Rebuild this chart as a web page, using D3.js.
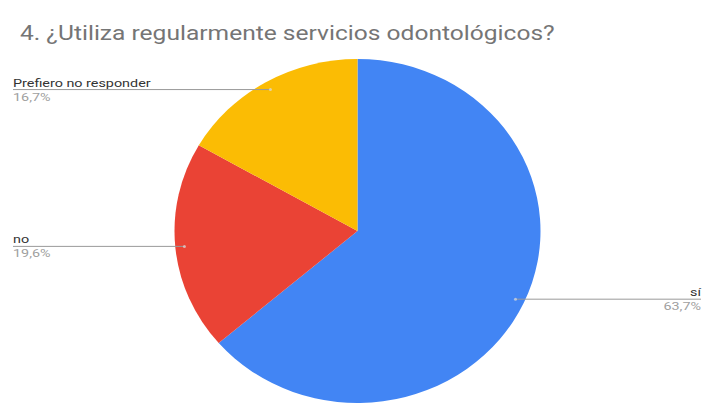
<!DOCTYPE html>
<html>
<head>
<meta charset="utf-8">
<script src="https://cdn.jsdelivr.net/npm/d3@7"></script>
<style>
  body { margin: 0; background: #fff; }
  svg { display: block; font-family: Roboto, Arial, sans-serif; }
</style>
</head>
<body>
<svg id="chart" width="703" height="403"></svg>
<script>
// data
const categories = ["sí", "no", "Prefiero no responder"];
const percents = [63.7, 19.6, 16.7];
const colors = ["#4285f4", "#ea4335", "#fbbc04"];
const titleText = "4. ¿Utiliza regularmente servicios odontológicos?";

const svg = d3.select("#chart");

// pie area (picture is a bit stretched sideways)
const cx = 357.5, cy = 231;
const rx = 183, ry = 172;
const stretch = 1.25; // horizontal text stretch seen in the reference

svg.append("text")
  .attr("transform", `translate(20,40) scale(1.17,1)`)
  .attr("fill", "#757575")
  .style("font-size", "21px")
  .text(titleText);

const rows = categories.map((c, i) => ({ name: c, value: percents[i], color: colors[i] }));

const pie = d3.pie().sort(null).value((d) => d.value);
const arcs = pie(rows);
const arc = d3.arc().innerRadius(0).outerRadius(rx);

const g = svg.append("g")
  .attr("transform", `translate(${cx},${cy}) scale(1,${ry / rx})`);

g.selectAll("path")
  .data(arcs)
  .enter()
  .append("path")
  .attr("d", arc)
  .attr("fill", (d) => d.data.color);

// labels with leader lines
const fmt = (v) => v.toFixed(1).replace(".", ",") + "%";

arcs.forEach((a) => {
  const mid = (a.startAngle + a.endAngle) / 2;
  const px = cx + Math.sin(mid) * rx * 0.95;
  const py = cy - Math.cos(mid) * ry * 0.95;
  const right = Math.sin(mid) > 0;
  const x0 = right ? px : 13;
  const x1 = right ? 701 : px;
  const tx = right ? 701 : 13;
  const anchor = right ? "end" : "start";

  svg.append("line")
    .attr("x1", x0).attr("x2", x1)
    .attr("y1", py).attr("y2", py)
    .attr("stroke", "#999")
    .attr("stroke-width", 1);

  svg.append("circle")
    .attr("cx", px).attr("cy", py)
    .attr("r", 1.5)
    .attr("fill", "#ddd")
    .attr("opacity", 0.7);

  svg.append("text")
    .attr("transform", `translate(${tx},${py - 3}) scale(${stretch},1)`)
    .attr("text-anchor", anchor)
    .attr("fill", "#333")
    .style("font-size", "11.5px")
    .text(a.data.name);

  svg.append("text")
    .attr("transform", `translate(${tx},${py + 11}) scale(${stretch},1)`)
    .attr("text-anchor", anchor)
    .attr("fill", "#a0a0a0")
    .style("font-size", "11.5px")
    .text(fmt(a.data.value));
});
</script>
</body>
</html>
